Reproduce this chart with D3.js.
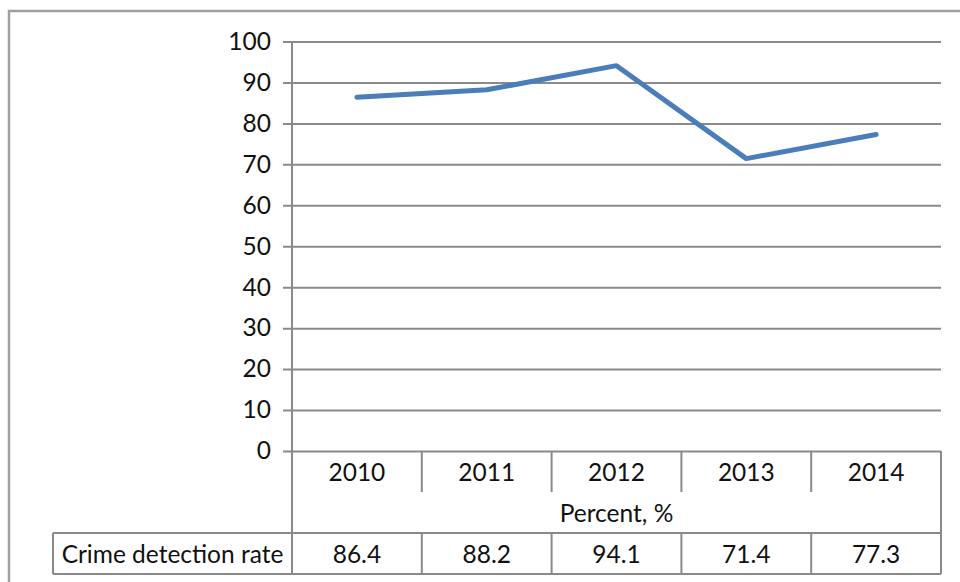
<!DOCTYPE html>
<html>
  <head>
    <meta charset="utf-8" />
    <script src="https://d3js.org/d3.v7.min.js"></script>
    <style>
      body { margin: 0; background: #fff; }
      text { font-family: Lato, "Open Sans", sans-serif; fill: #111; }
    </style>
  </head>
  <body>
    <div id="my_dataviz"></div>
    <script>
      // data
      var years = ["2010", "2011", "2012", "2013", "2014"];
      var rates = [86.4, 88.2, 94.1, 71.4, 77.3];
      var yTicks = [0, 10, 20, 30, 40, 50, 60, 70, 80, 90, 100];
      var seriesName = "Crime detection rate";
      var unitLabel = "Percent, %";

      var W = 960, H = 582;
      var plotLeft = 292, plotRight = 941, plotTop = 41.5, plotBottom = 451;
      var gridColor = "#8a8a8a";
      var fontSize = 24.5;

      var svg = d3.select("#my_dataviz").append("svg")
        .attr("width", W).attr("height", H);

      // outer frame (runs off the page right and bottom)
      svg.append("rect")
        .attr("x", 9).attr("y", 11)
        .attr("width", 1000).attr("height", 700)
        .attr("fill", "none").attr("stroke", "#a0a0a0").attr("stroke-width", 2.5);

      var x = d3.scaleBand().domain(years).range([plotLeft, plotRight]);
      var y = d3.scaleLinear().domain([0, 100]).range([plotBottom, plotTop]);

      // gridlines + tick labels
      var yAxis = svg.append("g")
        .attr("transform", "translate(" + (plotLeft - 9) + ",0)")
        .call(d3.axisLeft(y).tickValues(yTicks).tickSize(-(plotRight - plotLeft + 9)).tickPadding(12));
      yAxis.select(".domain").remove();
      yAxis.selectAll(".tick line").attr("stroke", gridColor).attr("stroke-width", 2);
      yAxis.selectAll(".tick text")
        .style("font-size", fontSize + "px")
        .style("font-family", "Lato, 'Open Sans', sans-serif")
        .attr("fill", "#111");

      // table rows
      var rowCatBottom = 492, rowUnitBottom = 533, rowDataBottom = 574, headerLeft = 53;
      var lines = svg.append("g").attr("stroke", gridColor).attr("stroke-width", 2);

      // vertical axis line down through the table
      lines.append("line").attr("x1", plotLeft).attr("x2", plotLeft).attr("y1", plotTop).attr("y2", rowDataBottom);
      // right edge of table
      lines.append("line").attr("x1", plotRight).attr("x2", plotRight).attr("y1", plotBottom).attr("y2", rowDataBottom);
      // horizontal lines
      lines.append("line").attr("x1", headerLeft).attr("x2", plotRight).attr("y1", rowUnitBottom).attr("y2", rowUnitBottom);
      lines.append("line").attr("x1", headerLeft).attr("x2", plotRight).attr("y1", rowDataBottom).attr("y2", rowDataBottom);
      lines.append("line").attr("x1", headerLeft).attr("x2", headerLeft).attr("y1", rowUnitBottom).attr("y2", rowDataBottom);

      // category separators
      years.slice(1).forEach(function (yr) {
        lines.append("line").attr("x1", x(yr)).attr("x2", x(yr)).attr("y1", plotBottom).attr("y2", rowCatBottom);
        lines.append("line").attr("x1", x(yr)).attr("x2", x(yr)).attr("y1", rowUnitBottom).attr("y2", rowDataBottom);
      });

      // category labels
      svg.selectAll(".cat").data(years).enter().append("text")
        .attr("x", function (d) { return x(d) + x.bandwidth() / 2; })
        .attr("y", (plotBottom + rowCatBottom) / 2)
        .attr("text-anchor", "middle").attr("dominant-baseline", "central")
        .style("font-size", fontSize + "px")
        .text(function (d) { return d; });

      svg.append("text")
        .attr("x", (plotLeft + plotRight) / 2).attr("y", (rowCatBottom + rowUnitBottom) / 2)
        .attr("text-anchor", "middle").attr("dominant-baseline", "central")
        .style("font-size", fontSize + "px")
        .text(unitLabel);

      svg.append("text")
        .attr("x", (headerLeft + plotLeft) / 2).attr("y", (rowUnitBottom + rowDataBottom) / 2)
        .attr("text-anchor", "middle").attr("dominant-baseline", "central")
        .style("font-size", fontSize + "px")
        .text(seriesName);

      svg.selectAll(".val").data(rates).enter().append("text")
        .attr("x", function (d, i) { return x(years[i]) + x.bandwidth() / 2; })
        .attr("y", (rowUnitBottom + rowDataBottom) / 2)
        .attr("text-anchor", "middle").attr("dominant-baseline", "central")
        .style("font-size", fontSize + "px")
        .text(function (d) { return d.toFixed(1); });

      // the line
      var line = d3.line()
        .x(function (d, i) { return x(years[i]) + x.bandwidth() / 2; })
        .y(function (d) { return y(d); });
      svg.append("path")
        .datum(rates)
        .attr("d", line)
        .attr("fill", "none")
        .attr("stroke", "#4a7ebb")
        .attr("stroke-width", 5)
        .attr("stroke-linejoin", "round")
        .attr("stroke-linecap", "round");
    </script>
  </body>
</html>
